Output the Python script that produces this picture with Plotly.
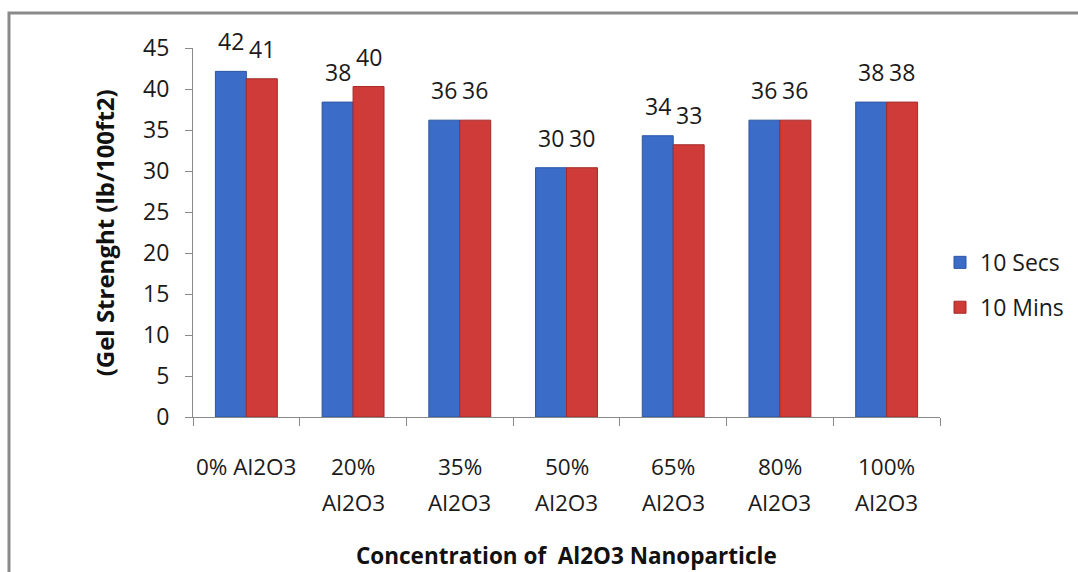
import plotly.graph_objects as go

categories = ["0%", "20%", "35%", "50%", "65%", "80%", "100%"]
label_line1 = ["0% Al2O3", "20%", "35%", "50%", "65%", "80%", "100%"]
label_line2 = ["", "Al2O3", "Al2O3", "Al2O3", "Al2O3", "Al2O3", "Al2O3"]
secs = [42.15, 38.4, 36.2, 30.4, 34.3, 36.2, 38.4]
mins = [41.25, 40.3, 36.2, 30.4, 33.2, 36.2, 38.4]
y_ticks = [0, 5, 10, 15, 20, 25, 30, 35, 40, 45]

FONT = "Open Sans"
BLUE = "#3b6cc7"
RED = "#cf3b38"
GRAY = "#8a8a8a"
TXT = "#1a1a1a"

fig = go.Figure()
fig.add_trace(go.Bar(x=categories, y=secs, name="10 Secs", legendgroup="a",
                     marker=dict(color=BLUE, line=dict(color="#2b55a3", width=1))))
fig.add_trace(go.Bar(x=categories, y=mins, name="10 Mins", legendgroup="b",
                     marker=dict(color=RED, line=dict(color="#a52b29", width=1))))

ann = []
for c, s, m in zip(categories, secs, mins):
    for v, sh in ((s, -15.5), (m, 15.5)):
        ann.append(dict(x=c, y=v, xref="x", yref="y", text=f"{v:.0f}", showarrow=False,
                        xshift=sh, yanchor="bottom", yshift=12,
                        font=dict(family=FONT, size=23, color=TXT)))
for c, l1, l2 in zip(categories, label_line1, label_line2):
    ann.append(dict(x=c, y=-0.135, xref="x", yref="paper", text=l1, showarrow=False,
                    yanchor="middle", font=dict(family=FONT, size=22.5, color=TXT)))
    if l2:
        ann.append(dict(x=c, y=-0.233, xref="x", yref="paper", text=l2, showarrow=False,
                        yanchor="middle", font=dict(family=FONT, size=22.5, color=TXT)))

ann.append(dict(x=0.5, y=-0.375, xref="paper", yref="paper",
                text="<b>Concentration of \u00a0Al2O3 Nanoparticle</b>", showarrow=False,
                xanchor="center", yanchor="middle", font=dict(family=FONT, size=22.5, color="#111")))
ann.append(dict(x=-0.118, y=0.5, xref="paper", yref="paper", textangle=-90,
                text="<b>(Gel Strenght (lb/100ft2)</b>", showarrow=False,
                xanchor="center", yanchor="middle", font=dict(family=FONT, size=24, color="#111")))

fig.update_layout(
    width=1078, height=572,
    margin=dict(l=193, r=138, t=48, b=155, autoexpand=False),
    paper_bgcolor="white", plot_bgcolor="white",
    barmode="group", bargap=0.42, bargroupgap=0,
    showlegend=True,
    legend=dict(x=1.0, y=0.358, xanchor="left", yanchor="middle",
                font=dict(family=FONT, size=23, color=TXT),
                tracegroupgap=12, bgcolor="rgba(0,0,0,0)"),
    annotations=ann,
    shapes=[dict(type="rect", xref="paper", yref="paper",
                 x0=(9 - 193) / 747, x1=(1100 - 193) / 747,
                 y0=(417 - 600) / 369, y1=(417 - 13) / 369,
                 line=dict(color=GRAY, width=3), fillcolor="rgba(0,0,0,0)", layer="below")],
)
fig.update_xaxes(showticklabels=False, showline=True, linecolor=GRAY, linewidth=1,
                 ticks="outside", tickson="boundaries", ticklen=8, tickcolor=GRAY,
                 showgrid=False, zeroline=False)
fig.update_yaxes(range=[0, 45], tickvals=y_ticks, showline=True, linecolor=GRAY, linewidth=1,
                 ticks="outside", ticklen=7, tickcolor=GRAY, ticklabelstandoff=11,
                 showgrid=False, zeroline=False,
                 tickfont=dict(family=FONT, size=23, color=TXT))

fig.write_html("out.html")
